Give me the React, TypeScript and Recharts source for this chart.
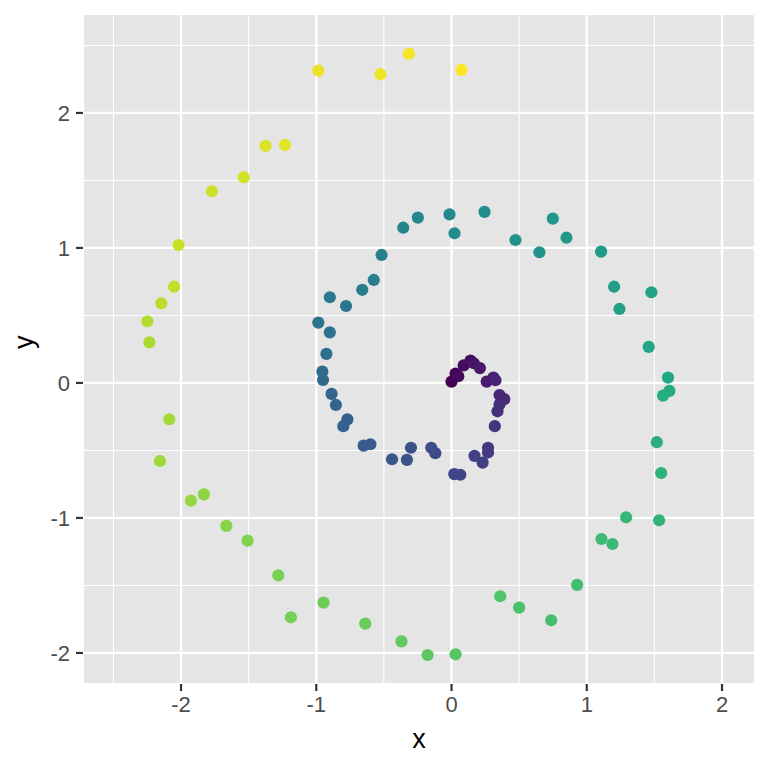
import { CartesianGrid, Cell, ReferenceLine, Scatter, ScatterChart, XAxis, YAxis } from 'recharts';

// points listed in order along the spiral, centre first
const xValues = [
  0.0, 0.03, 0.05, 0.09, 0.14, 0.165, 0.21, 0.26, 0.31, 0.325,
  0.355, 0.39, 0.355, 0.34, 0.32, 0.27, 0.27, 0.23, 0.17, 0.065,
  0.02, -0.12, -0.15, -0.3, -0.33, -0.44, -0.6, -0.65, -0.77, -0.8,
  -0.855, -0.887, -0.95, -0.955, -0.925, -0.9, -0.985, -0.78, -0.9, -0.66,
  -0.575, -0.517, -0.357, -0.249, -0.015, 0.022, 0.244, 0.473, 0.65, 0.749,
  0.85, 1.106, 1.202, 1.242, 1.478, 1.458, 1.601, 1.611, 1.564, 1.518,
  1.55, 1.535, 1.291, 1.19, 1.109, 0.929, 0.737, 0.5, 0.36, 0.03,
  -0.177, -0.37, -0.638, -0.946, -1.188, -1.281, -1.508, -1.665, -1.831, -1.927,
  -2.156, -2.087, -2.234, -2.249, -2.146, -2.052, -2.018, -1.772, -1.537, -1.375,
  -1.232, -0.985, -0.525, -0.315, 0.074,
];
const yValues = [
  0.01, 0.07, 0.05, 0.13, 0.165, 0.146, 0.11, 0.01, 0.04, 0.02,
  -0.09, -0.12, -0.16, -0.21, -0.32, -0.48, -0.515, -0.59, -0.54, -0.68,
  -0.675, -0.52, -0.48, -0.48, -0.57, -0.565, -0.454, -0.464, -0.27, -0.32,
  -0.163, -0.081, 0.022, 0.084, 0.215, 0.375, 0.447, 0.57, 0.635, 0.69,
  0.763, 0.948, 1.15, 1.225, 1.249, 1.109, 1.267, 1.059, 0.968, 1.217,
  1.076, 0.973, 0.713, 0.548, 0.672, 0.267, 0.039, -0.059, -0.094, -0.439,
  -0.667, -1.017, -0.995, -1.193, -1.156, -1.496, -1.758, -1.664, -1.58, -2.01,
  -2.015, -1.914, -1.783, -1.627, -1.736, -1.425, -1.168, -1.059, -0.825, -0.872,
  -0.578, -0.269, 0.301, 0.457, 0.59, 0.713, 1.022, 1.42, 1.524, 1.756,
  1.763, 2.313, 2.287, 2.439, 2.319,
];
const xTicks = [-2, -1, 0, 1, 2];
const yTicks = [-2, -1, 0, 1, 2];
const xMinor = [-2.5, -1.5, -0.5, 0.5, 1.5];
const yMinor = [-1.5, -0.5, 0.5, 1.5, 2.5];

const VIRIDIS = [
  '#440154', '#482475', '#414487', '#355f8d', '#2a788e', '#21918c',
  '#22a884', '#44bf70', '#7ad151', '#bddf26', '#fde725',
];

function viridis(t: number) {
  const p = Math.min(Math.max(t, 0), 1) * (VIRIDIS.length - 1);
  const i = Math.min(Math.floor(p), VIRIDIS.length - 2);
  const f = p - i;
  const a = VIRIDIS[i];
  const b = VIRIDIS[i + 1];
  const ch = (s: string, k: number) => parseInt(s.slice(1 + k * 2, 3 + k * 2), 16);
  const mix = [0, 1, 2].map((k) => Math.round(ch(a, k) + (ch(b, k) - ch(a, k)) * f));
  return `rgb(${mix.join(',')})`;
}

const points = xValues.map((x, i) => ({ x, y: yValues[i], t: i / (xValues.length - 1) }));

const FONT = '"Liberation Sans", Arial, Helvetica, sans-serif';
const tickStyle = { fill: '#4D4D4D', fontSize: 22, fontFamily: FONT };
const tickLineStyle = { stroke: '#333333', strokeWidth: 2.2 };

// biome-ignore lint/suspicious/noExplicitAny: recharts passes loosely typed shape props
const Dot = (props: any) => <circle cx={props.cx} cy={props.cy} r={6.1} fill={props.fill} />;

export default function App() {
  return (
    <div style={{ position: 'absolute', left: 0, top: 0, background: '#fff' }}>
      <ScatterChart width={768} height={768} margin={{ top: 14, right: 13, bottom: 0, left: 0 }}>
        <CartesianGrid fill="#E5E5E5" stroke="#FFFFFF" strokeWidth={2.2} />
        {xMinor.map((v) => (
          <ReferenceLine key={`vx${v}`} x={v} stroke="#FFFFFF" strokeWidth={1.1} />
        ))}
        {yMinor.map((v) => (
          <ReferenceLine key={`hy${v}`} y={v} stroke="#FFFFFF" strokeWidth={1.1} />
        ))}
        <XAxis
          type="number"
          dataKey="x"
          domain={[-2.725, 2.244]}
          ticks={xTicks}
          allowDataOverflow
          height={84}
          axisLine={false}
          tickSize={7}
          tickMargin={5}
          tickLine={tickLineStyle}
          tick={tickStyle}
          label={{ value: 'x', position: 'insideBottom', offset: 20, fill: '#000', fontSize: 27, fontFamily: FONT }}
        />
        <YAxis
          type="number"
          dataKey="y"
          domain={[-2.23, 2.733]}
          ticks={yTicks}
          allowDataOverflow
          width={83}
          axisLine={false}
          tickSize={7}
          tickMargin={6}
          tickLine={tickLineStyle}
          tick={tickStyle}
          label={{ value: 'y', angle: -90, position: 'insideLeft', offset: 23, fill: '#000', fontSize: 27, fontFamily: FONT }}
        />
        <Scatter data={points} shape={Dot} isAnimationActive={false}>
          {points.map((p) => (
            <Cell key={`${p.x},${p.y}`} fill={viridis(p.t)} />
          ))}
        </Scatter>
      </ScatterChart>
    </div>
  );
}
